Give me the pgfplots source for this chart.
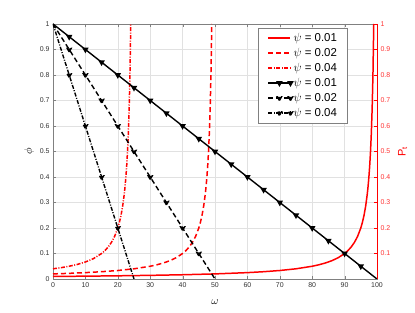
\documentclass[border=0pt]{standalone}
\usepackage{pgfplots}
\pgfplotsset{compat=1.18}
\usepackage{fontspec}
\setmainfont{Liberation Sans}
\setsansfont{Liberation Sans}
\definecolor{axgray}{RGB}{128,128,128}
\definecolor{gridgray}{RGB}{225,225,225}
\definecolor{lblgray}{RGB}{50,50,50}
\begin{document}
\begin{tikzpicture}
\pgfplotsset{
  myaxis/.style={
    scale only axis, width=324bp, height=255bp,
    xmin=0, xmax=100, ymin=0, ymax=1,
    tick align=inside,
    major tick length=3bp,
    /pgf/number format/assume math mode=true,
    tick label style={font=\fontsize{7}{8}\selectfont, color=lblgray},
    yticklabel style={/pgf/number format/fixed},
  }
}
\begin{axis}[myaxis,
  axis line style={axgray},
  xtick={0,10,...,100},
  ytick={0,0.1,...,1},
  yticklabels={0,0.1,0.2,0.3,0.4,0.5,0.6,0.7,0.8,0.9,1},
  xticklabels={0,10,20,30,40,50,60,70,80,90,100},
  xtick pos=both, ytick pos=left,
  grid=major, grid style={gridgray, line width=0.5pt},
  xlabel={$\omega$}, xlabel style={font=\fontsize{11}{12}\selectfont, yshift=-6bp},
  ylabel={$\phi$}, ylabel style={font=\fontsize{11}{12}\selectfont, yshift=-1bp},
  legend style={at={(0.634,0.984)}, anchor=north west, draw=axgray, font=\fontsize{11.5}{14}\selectfont, inner xsep=9bp, inner ysep=3bp, row sep=1.2bp, legend cell align=left,
    nodes={inner xsep=1bp}},
  legend image code/.code={\draw[mark repeat=2,mark phase=2,#1] plot coordinates {(0cm,0cm) (0.39cm,0cm) (0.78cm,0cm)};},
]
% red curves P_t
\addplot[red, solid, line width=1.5pt] coordinates {
(0,0.01)(10,0.01111)(20,0.0125)(30,0.01429)(40,0.01667)(50,0.02)(60,0.025)(65,0.02857)(70,0.03333)(75,0.04)(80,0.05)(82,0.05556)(84,0.0625)(86,0.07143)(88,0.08333)(90,0.1)(91,0.1111)(92,0.125)(93,0.1429)(94,0.1667)(95,0.2)(95.5,0.2222)(96,0.25)(96.5,0.2857)(97,0.3333)(97.25,0.3636)(97.5,0.4)(97.75,0.4444)(98,0.5)(98.25,0.5714)(98.5,0.6667)(98.75,0.8)(99,1)};
\addlegendentry{$\psi$ = 0.01}
\addplot[red, dash pattern=on 5bp off 3bp, line width=1.5pt] coordinates {
(0,0.02)(5,0.02222)(10,0.025)(15,0.02857)(20,0.03333)(25,0.04)(30,0.05)(32,0.05556)(34,0.0625)(36,0.07143)(38,0.08333)(40,0.1)(41,0.1111)(42,0.125)(43,0.1429)(44,0.1667)(45,0.2)(45.5,0.2222)(46,0.25)(46.5,0.2857)(47,0.3333)(47.25,0.3636)(47.5,0.4)(47.75,0.4444)(48,0.5)(48.25,0.5714)(48.5,0.6667)(48.75,0.8)(49,1)};
\addlegendentry{$\psi$ = 0.02}
\addplot[red, dash pattern=on 4bp off 1.5bp on 1bp off 1.5bp, line width=1.5pt] coordinates {
(0,0.04)(2.5,0.04444)(5,0.05)(7.5,0.05714)(10,0.06667)(12.5,0.08)(15,0.1)(16,0.1111)(17,0.125)(18,0.1429)(19,0.1667)(20,0.2)(20.5,0.2222)(21,0.25)(21.5,0.2857)(22,0.3333)(22.25,0.3636)(22.5,0.4)(22.75,0.4444)(23,0.5)(23.25,0.5714)(23.5,0.6667)(23.75,0.8)(24,1)};
\addlegendentry{$\psi$ = 0.04}
% black lines phi
\addplot[black, solid, line width=1.4pt, mark=triangle*, mark options={rotate=180, solid, fill=black, scale=1.2}, mark indices={2,3,4,5,6,7,8,9,10,11,12,13,14,15,16,17,18,19,20}] coordinates {
(0,1)(5,0.95)(10,0.9)(15,0.85)(20,0.8)(25,0.75)(30,0.7)(35,0.65)(40,0.6)(45,0.55)(50,0.5)(55,0.45)(60,0.4)(65,0.35)(70,0.3)(75,0.25)(80,0.2)(85,0.15)(90,0.1)(95,0.05)(100,0)};
\addlegendentry{$\psi$ = 0.01}
\addplot[black, line width=1.4pt, dash pattern=on 5bp off 3bp, mark=triangle*, mark options={rotate=180, fill=black, scale=1.2}, mark indices={2,3,4,5,6,7,8,9,10}] coordinates {
(0,1)(5,0.9)(10,0.8)(15,0.7)(20,0.6)(25,0.5)(30,0.4)(35,0.3)(40,0.2)(45,0.1)(50,0)};
\addlegendentry{$\psi$ = 0.02}
\addplot[black, line width=1.4pt, dash pattern=on 4bp off 1.5bp on 1bp off 1.5bp, mark=triangle*, mark options={rotate=180, fill=black, scale=1.2}, mark indices={2,3,4,5}] coordinates {
(0,1)(5,0.8)(10,0.6)(15,0.4)(20,0.2)(25,0)};
\addlegendentry{$\psi$ = 0.04}
\end{axis}
\begin{axis}[myaxis,
  axis x line=none,
  axis y line*=right,
  y axis line style={red},
  ytick={0.1,0.2,...,1},
  yticklabels={0.1,0.2,0.3,0.4,0.5,0.6,0.7,0.8,0.9,1},
  ytick style={red},
  yticklabel style={color=red!80},
  ylabel={P$_\mathrm{t}$}, ylabel style={font=\fontsize{11}{12}\selectfont, color=red, yshift=-1bp},
]
\addplot[draw=none] coordinates {(0,0)(100,1)};
\end{axis}
\pgfresetboundingbox
\path[use as bounding box] (-53bp,-34bp) rectangle (362bp,279bp);
\end{tikzpicture}
\end{document}
